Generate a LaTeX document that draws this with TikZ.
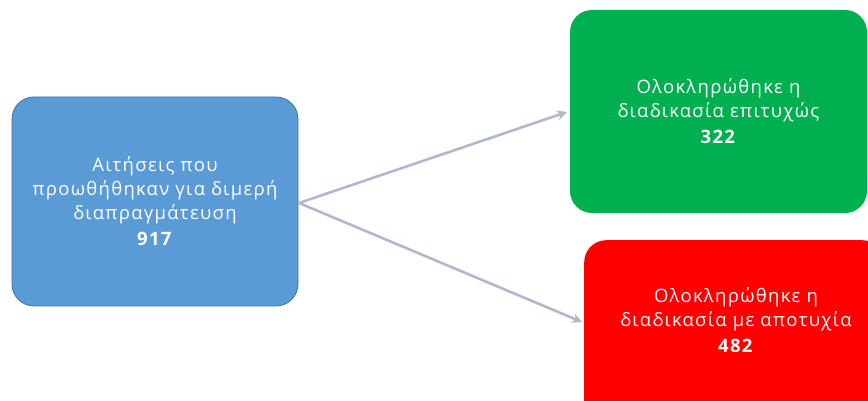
\documentclass[tikz,border=0pt]{standalone}
\usepackage{fontspec}
\setmainfont{Open Sans}[LetterSpace=7]
\usetikzlibrary{arrows.meta}
\definecolor{boxblue}{HTML}{5B9BD5}
\definecolor{boxblueedge}{HTML}{41719C}
\definecolor{boxgreen}{HTML}{00B050}
\definecolor{boxred}{HTML}{FF0000}
\definecolor{arrowgrey}{HTML}{B0B9CC}
\begin{document}
\begin{tikzpicture}[x=1pt,y=1pt,
  box/.style={rectangle, rounded corners=22pt, text=white, align=center,
    font=\fontsize{18.5}{24}\selectfont, inner sep=0pt},
  conn/.style={draw=arrowgrey, line width=2.6pt, -{Stealth[length=10pt,width=10pt]}}]
\useasboundingbox (0,0) rectangle (868,401);
\begin{scope}
\clip (0,0) rectangle (868,401);
\node[box, fill=boxblue, draw=boxblueedge, line width=0.8pt,
  minimum width=286pt, minimum height=209pt] (src) at (155,199.5)
  {Αιτήσεις που\\προωθήθηκαν για διμερή\\διαπραγμάτευση\\[2pt]\textbf{917}};
\node[box, fill=boxgreen, minimum width=297pt, minimum height=203pt] (ok) at (718.5,289.5)
  {Ολοκληρώθηκε η\\διαδικασία επιτυχώς\\[2pt]\textbf{322}};
\node[box, fill=boxred, minimum width=300pt, minimum height=200pt, anchor=north west] (fail) at (584,161) {};
\node[text=white, align=center, font=\fontsize{18.5}{24}\selectfont, inner sep=0pt] (failtxt) at (736,81)
  {Ολοκληρώθηκε η\\διαδικασία με αποτυχία\\[2pt]\textbf{482}};
\end{scope}
\coordinate (start) at (299,198);
\draw[conn] (start) -- (567,289);
\draw[conn] (start) -- (582,79);
\end{tikzpicture}
\end{document}
